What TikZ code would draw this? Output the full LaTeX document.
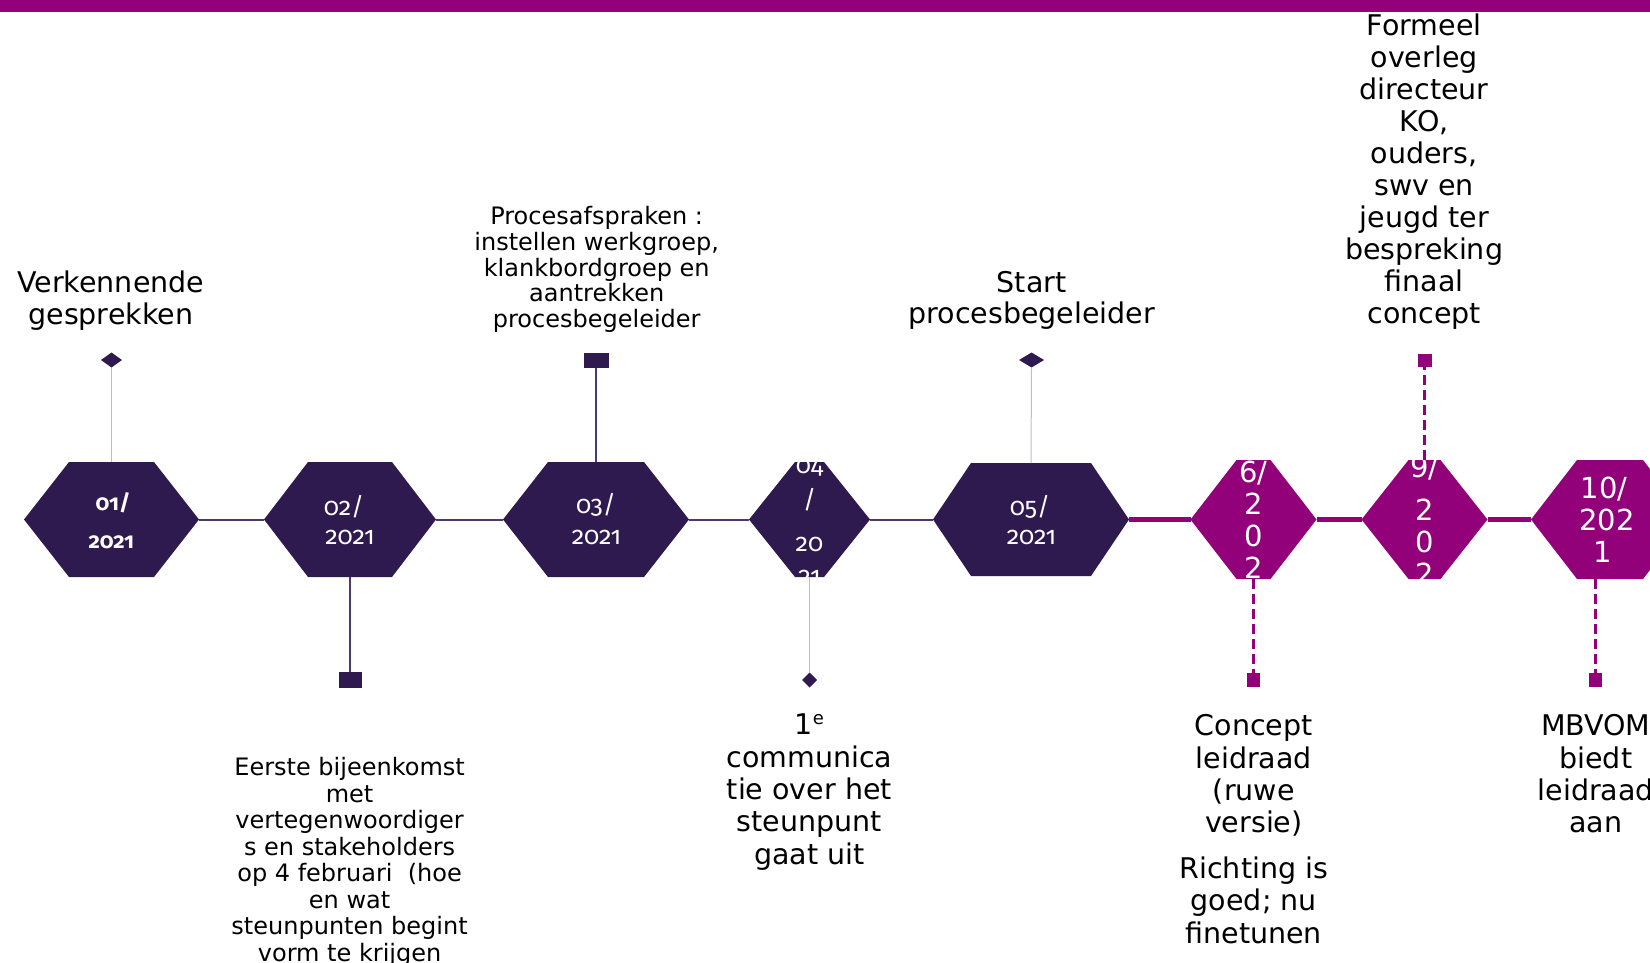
\documentclass[tikz,border=0pt]{standalone}
\usepackage{fontspec}
\setmainfont{DejaVu Sans}
\newfontfamily\datefont[Numbers=OldStyle]{Fira Sans}
\usetikzlibrary{shapes.geometric}
\definecolor{dpurple}{HTML}{2F1A4F}
\definecolor{dline}{HTML}{4A3A6E}
\definecolor{mag}{HTML}{92007A}
\definecolor{glight}{HTML}{BFBFBF}
\newcommand\hexfill[3]{\fill[#1] (#2.west) -- ([xshift=#3]#2.north west) -- ([xshift=-#3]#2.north east) -- (#2.east) -- ([xshift=-#3]#2.south east) -- ([xshift=#3]#2.south west) -- cycle;}
\newcommand\hexclip[2]{\clip (#1.west) -- ([xshift=#2]#1.north west) -- ([xshift=-#2]#1.north east) -- (#1.east) -- ([xshift=-#2]#1.south east) -- ([xshift=#2]#1.south west) -- cycle;}
\begin{document}
\begin{tikzpicture}[x=1pt,y=-1pt,
  hexbox/.style={rectangle, inner sep=0pt, outer sep=0pt},
  bigtext/.style={inner sep=0pt, outer sep=0pt, align=center, anchor=north, font=\fontsize{28.5}{31.7}\selectfont},
  smalltext/.style={inner sep=0pt, outer sep=0pt, align=center, anchor=north, font=\fontsize{24}{25.9}\selectfont},
  datetext/.style={inner sep=0pt, outer sep=0pt, anchor=base, text=white, font=\datefont\fontsize{25}{25}\selectfont},
  datebold/.style={datetext, font=\datefont\bfseries\fontsize{22}{22}\selectfont},
  numtext/.style={inner sep=0pt, outer sep=0pt, anchor=base, text=white, font=\fontsize{29}{29}\selectfont},
  diam/.style={diamond, inner sep=0pt, outer sep=0pt, fill=dpurple},
  sq/.style={rectangle, inner sep=0pt, outer sep=0pt},
  grayconn/.style={draw=glight, line width=1pt},
  darkconn/.style={draw=dline, line width=1.5pt},
  magconn/.style={draw=mag, line width=2.5pt, dash pattern=on 10pt off 5pt},
]
\useasboundingbox (0,0) rectangle (1650,963);
\clip (0,0) rectangle (1650,963);
\fill[mag] (0,0) rectangle (1650,12);

% hexagon nodes
\node[hexbox, minimum width=175pt, minimum height=115pt] (h1) at (111.5,519.5) {};
\node[hexbox, minimum width=172pt, minimum height=115pt] (h2) at (350,519.5) {};
\node[hexbox, minimum width=186pt, minimum height=115pt] (h3) at (596,519.5) {};
\node[hexbox, minimum width=121pt, minimum height=115pt] (h4) at (809.5,519.5) {};
\node[hexbox, minimum width=196pt, minimum height=113pt] (h5) at (1031,519.5) {};
\node[hexbox, minimum width=126pt, minimum height=119pt] (h6) at (1253.5,519.5) {};
\node[hexbox, minimum width=126pt, minimum height=119pt] (h7) at (1424.5,519.5) {};
\node[hexbox, minimum width=158pt, minimum height=119pt] (h8) at (1610,519.5) {};

% timeline
\draw[dline, line width=2pt] (h1.east) -- (h2.west);
\draw[dline, line width=2pt] (h2.east) -- (h3.west);
\draw[dline, line width=2pt] (h3.east) -- (h4.west);
\draw[dline, line width=2pt] (h4.east) -- (h5.west);
\draw[mag, line width=5pt] (h5.east) -- (h6.west);
\draw[mag, line width=5pt] (h6.east) -- (h7.west);
\draw[mag, line width=5pt] (h7.east) -- (h8.west);

% hexagon fills
\hexfill{dpurple}{h1}{45pt}
\hexfill{dpurple}{h2}{44pt}
\hexfill{dpurple}{h3}{45pt}
\hexfill{dpurple}{h4}{46pt}
\hexfill{dpurple}{h5}{38pt}
\hexfill{mag}{h6}{46pt}
\hexfill{mag}{h7}{47pt}
\hexfill{mag}{h8}{46pt}

% hexagon texts
\begin{scope}\hexclip{h1}{45pt}
\node[datebold] (d1a) at (113,510) {01/};
\node[datebold] (d1b) at (111.3,548) {2021};
\end{scope}
\begin{scope}\hexclip{h2}{44pt}
\node[datetext] (d2a) at (344,515) {02/};
\node[datetext] (d2b) at (350,544) {2021};
\end{scope}
\begin{scope}\hexclip{h3}{45pt}
\node[datetext] (d3a) at (596,513) {03/};
\node[datetext] (d3b) at (596.5,544) {2021};
\end{scope}
\begin{scope}\hexclip{h4}{46pt}
\node[datetext] (d4a) at (809.5,473) {04};
\node[datetext] (d4b) at (809.5,508) {/};
\node[datetext] (d4c) at (809.5,551) {20};
\node[datetext] (d4d) at (809.5,584) {21};
\end{scope}
\begin{scope}\hexclip{h5}{38pt}
\node[datetext] (d5a) at (1030,515) {05/};
\node[datetext] (d5b) at (1031.5,544) {2021};
\end{scope}
\begin{scope}\hexclip{h6}{46pt}
\node[numtext] (d6a) at (1253.5,482) {6/};
\node[numtext] (d6b) at (1253.5,514) {2};
\node[numtext] (d6c) at (1253.5,546) {0};
\node[numtext] (d6d) at (1253.5,578) {2};
\end{scope}
\begin{scope}\hexclip{h7}{47pt}
\node[numtext] (d7a) at (1424.5,477) {9/};
\node[numtext] (d7b) at (1424.5,520) {2};
\node[numtext] (d7c) at (1424.5,552) {0};
\node[numtext] (d7d) at (1424.5,584) {2};
\end{scope}
\begin{scope}\hexclip{h8}{46pt}
\node[numtext] (d8a) at (1604,498) {10/};
\node[numtext] (d8b) at (1607,530) {202};
\node[numtext] (d8c) at (1603,562) {1};
\end{scope}

% markers
\node[diam, minimum width=21pt, minimum height=15pt] (m1) at (111.5,360) {};
\node[sq, fill=dpurple, minimum width=25pt, minimum height=15pt] (m3) at (596,360) {};
\node[diam, minimum width=25pt, minimum height=15pt] (m5) at (1031.5,360) {};
\node[sq, fill=mag, minimum width=14pt, minimum height=13pt] (m7) at (1424.5,360) {};
\node[sq, fill=dpurple, minimum width=23pt, minimum height=16pt] (m2) at (350,680) {};
\node[diam, minimum width=15pt, minimum height=15pt] (m4) at (809.5,680) {};
\node[sq, fill=mag, minimum width=13.5pt, minimum height=13.5pt] (m6) at (1253.5,680) {};
\node[sq, fill=mag, minimum width=13.5pt, minimum height=13.5pt] (m8) at (1595.3,680) {};

% connectors
\draw[grayconn] (m1.south) -- (h1.north);
\draw[darkconn] (m3.south) -- (h3.north);
\draw[grayconn] (m5.south) -- (h5.north);
\draw[magconn] (h7.north) -- (m7.south);
\draw[darkconn] (h2.south) -- (m2.north);
\draw[grayconn] (h4.south) -- (m4.north);
\draw[magconn] (h6.south) -- (m6.north);
\draw[magconn] (m8 |- h8.south) -- (m8.north);

% labels
\node[bigtext] (t1) at (110.8,271) {Verkennende\\gesprekken};
\node[smalltext] (t3) at (596.7,206) {Procesafspraken :\\instellen werkgroep,\\klankbordgroep en\\aantrekken\\procesbegeleider};
\node[bigtext] (t5) at (1031.7,271) {Start\\procesbegeleider};
\node[bigtext, font=\fontsize{28.5}{31.9}\selectfont] (t7) at (1424.2,14.3) {Formeel\\overleg\\directeur\\KO,\\ouders,\\swv en\\jeugd ter\\bespreking\\finaal\\concept};
\node[smalltext, font=\fontsize{24}{26.5}\selectfont] (t2) at (349.6,757.5) {Eerste bijeenkomst\\met\\vertegenwoordiger\\s en stakeholders\\op 4 februari~ (hoe\\en wat\\steunpunten begint\\vorm te krijgen};
\node[bigtext, font=\fontsize{28.5}{32.3}\selectfont] (t4) at (809.4,714.2) {1\raisebox{10pt}{\fontsize{18}{18}\selectfont e}\\communica\\tie over het\\steunpunt\\gaat uit};
\node[bigtext, font=\fontsize{28.5}{32.4}\selectfont] (t6) at (1253.8,714.5) {Concept\\leidraad\\(ruwe\\versie)\\[13pt]Richting is\\goed; nu\\finetunen};
\node[bigtext, font=\fontsize{28.5}{32.4}\selectfont] (t8) at (1595.8,714.5) {MBVOM\\biedt\\leidraad\\aan};
\end{tikzpicture}
\end{document}
